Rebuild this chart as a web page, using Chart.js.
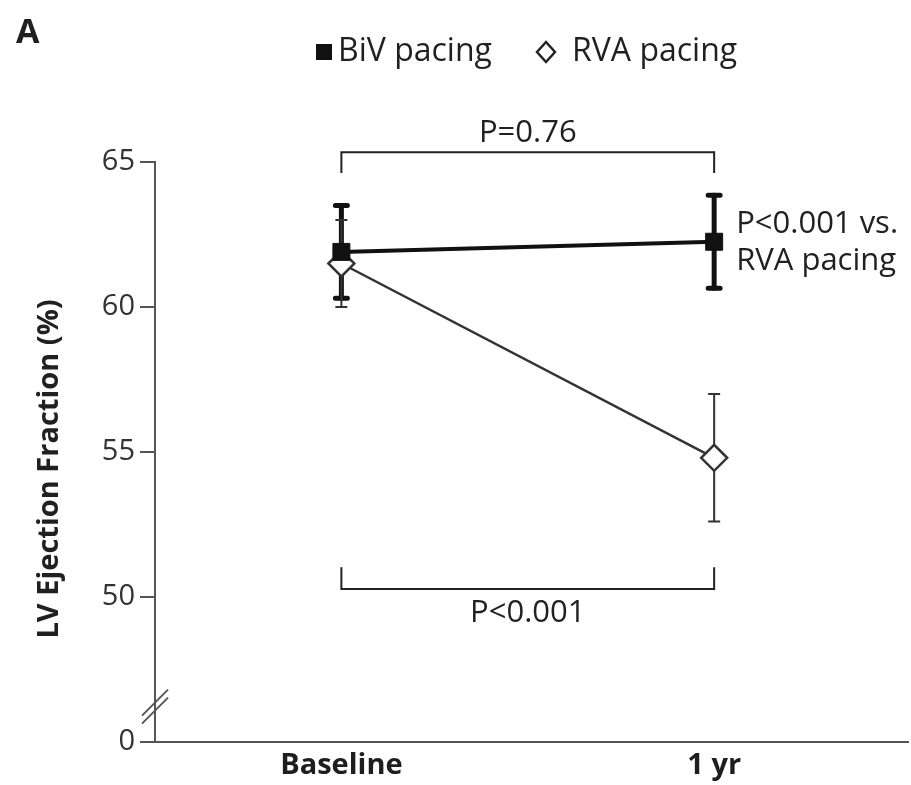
<!DOCTYPE html>
<html><head><meta charset="utf-8">
<script src="https://cdn.jsdelivr.net/npm/chart.js@4.4.1/dist/chart.umd.min.js"></script>
<style>html,body{margin:0;padding:0;background:#fff;overflow:hidden;}#wrap{width:911px;height:785px;}canvas{display:block;}</style>
</head><body><div id="wrap"><canvas id="c" width="911" height="785"></canvas></div>
<script>
// ---- data ----
const categories = ['Baseline', '1 yr'];
const categoryX = [0, 1];
const bivMean = [61.9, 62.25];
const bivErr = [1.6, 1.6];
const rvaMean = [61.5, 54.8];
const rvaErr = [1.5, 2.2];
const yTickValues = [45, 50, 55, 60, 65];
const yTickLabels = ['0', '50', '55', '60', '65'];
const seriesLabels = ['BiV pacing', 'RVA pacing'];
const panelLabel = 'A';
const yTitle = 'LV Ejection Fraction (%)';
const pTop = 'P=0.76';
const pBottom = 'P<0.001';
const pSide = ['P<0.001 vs.', 'RVA pacing'];

// ---- layout / style ----
const FONT = "'Open Sans', 'DejaVu Sans', sans-serif";
const TXT = '#231f20';
const AXIS = '#555';
const place = { topBracket: 65.34, topBracketFoot: 64.62, topText: 65.99,
                botBracket: 50.28, botBracketFoot: 51.03, botText: 49.45,
                sideText: [62.86, 61.58], breakAt: 46.22 };

const annot = {
  id: 'annot',
  beforeDatasetsDraw(chart) {
    const ctx = chart.ctx, xs = chart.scales.x, ys = chart.scales.y;
    const styles = [{w: 5, c: '#111', cap: 6}, {w: 2, c: '#333', cap: 6}];
    chart.data.datasets.forEach((ds, i) => {
      const st = styles[i];
      ds.data.forEach((p, j) => {
        const x = xs.getPixelForValue(p.x);
        const y1 = ys.getPixelForValue(p.y + ds.errors[j]);
        const y2 = ys.getPixelForValue(p.y - ds.errors[j]);
        ctx.save();
        ctx.strokeStyle = st.c; ctx.lineWidth = st.w;
        ctx.lineCap = i === 0 ? 'round' : 'butt';
        ctx.beginPath(); ctx.moveTo(x, y1); ctx.lineTo(x, y2); ctx.stroke();
        ctx.beginPath();
        ctx.moveTo(x - st.cap, y1); ctx.lineTo(x + st.cap, y1);
        ctx.moveTo(x - st.cap, y2); ctx.lineTo(x + st.cap, y2);
        ctx.stroke();
        ctx.restore();
      });
    });
  },
  afterDraw(chart) {
    const ctx = chart.ctx, xs = chart.scales.x, ys = chart.scales.y;
    const x0 = xs.getPixelForValue(categoryX[0]), x1 = xs.getPixelForValue(categoryX[1]);
    ctx.save();
    // brackets
    ctx.strokeStyle = '#222'; ctx.lineWidth = 2;
    let yb = ys.getPixelForValue(place.topBracket), yf = ys.getPixelForValue(place.topBracketFoot);
    ctx.beginPath(); ctx.moveTo(x0, yf); ctx.lineTo(x0, yb); ctx.lineTo(x1, yb); ctx.lineTo(x1, yf); ctx.stroke();
    yb = ys.getPixelForValue(place.botBracket); yf = ys.getPixelForValue(place.botBracketFoot);
    ctx.beginPath(); ctx.moveTo(x0, yf); ctx.lineTo(x0, yb); ctx.lineTo(x1, yb); ctx.lineTo(x1, yf); ctx.stroke();
    // p texts
    ctx.fillStyle = TXT; ctx.font = `31px ${FONT}`;
    ctx.textAlign = 'center'; ctx.textBaseline = 'middle';
    ctx.fillText(pTop, (x0 + x1) / 2, ys.getPixelForValue(place.topText));
    ctx.fillText(pBottom, (x0 + x1) / 2, ys.getPixelForValue(place.botText));
    ctx.textAlign = 'left';
    pSide.forEach((t, i) => ctx.fillText(t, x1 + 22, ys.getPixelForValue(place.sideText[i])));
    // axis break
    const yBr = ys.getPixelForValue(place.breakAt), xa = xs.left;
    ctx.strokeStyle = AXIS; ctx.lineWidth = 2;
    [-4, 4].forEach(o => {
      ctx.beginPath(); ctx.moveTo(xa - 13, yBr + o + 13); ctx.lineTo(xa + 13, yBr + o - 13); ctx.stroke();
    });
    // y title
    ctx.save();
    ctx.translate(50, (ys.top + ys.bottom) / 2 + 17);
    ctx.rotate(-Math.PI / 2);
    ctx.font = `bold 29px ${FONT}`; ctx.textAlign = 'center'; ctx.textBaseline = 'middle';
    ctx.fillText(yTitle, 0, 0);
    ctx.restore();
    // panel label
    ctx.font = `bold 34px ${FONT}`; ctx.textAlign = 'left'; ctx.textBaseline = 'alphabetic';
    ctx.fillText(panelLabel, 16, 43);
    // legend
    ctx.font = `32px ${FONT}`; ctx.textBaseline = 'middle';
    const ly = 52;
    let lx = 316;
    ctx.fillStyle = '#111'; ctx.fillRect(lx, ly - 8, 16, 16);
    ctx.fillStyle = TXT; ctx.fillText(chart.data.datasets[0].label, lx + 22, ly);
    lx = 537;
    ctx.strokeStyle = '#222'; ctx.lineWidth = 2.5;
    ctx.beginPath(); ctx.moveTo(lx + 9, ly - 10); ctx.lineTo(lx + 18, ly); ctx.lineTo(lx + 9, ly + 10); ctx.lineTo(lx, ly); ctx.closePath(); ctx.stroke();
    ctx.fillText(chart.data.datasets[1].label, 572, ly);
    ctx.restore();
  }
};

new Chart(document.getElementById('c'), {
  type: 'line',
  data: { datasets: [
    { label: seriesLabels[0], data: categoryX.map((x, i) => ({x, y: bivMean[i]})), errors: bivErr,
      borderColor: '#111', borderWidth: 4, pointStyle: 'rect', pointRadius: 12,
      pointBackgroundColor: '#111', pointBorderColor: '#111', pointBorderWidth: 1, tension: 0 },
    { label: seriesLabels[1], data: categoryX.map((x, i) => ({x, y: rvaMean[i]})), errors: rvaErr,
      borderColor: '#333', borderWidth: 2.5, pointStyle: 'rectRot', pointRadius: 13,
      pointBackgroundColor: '#fff', pointBorderColor: '#333', pointBorderWidth: 2.5, tension: 0 }
  ]},
  options: {
    responsive: false, animation: false, devicePixelRatio: 1,
    layout: { autoPadding: false, padding: { top: 162, right: 3, left: 0, bottom: 0 } },
    plugins: { legend: { display: false }, tooltip: { enabled: false } },
    scales: {
      x: { type: 'linear', min: -0.5, max: 1.52,
        afterBuildTicks: s => { s.ticks = categoryX.map(v => ({value: v})); },
        ticks: { callback: v => categories[categoryX.indexOf(v)], font: { family: FONT, size: 29, weight: 'bold' },
                 color: '#1e1e1e', padding: 6, autoSkip: false, maxRotation: 0 },
        grid: { display: true, drawOnChartArea: false, drawTicks: false, color: 'rgba(0,0,0,0)' },
        border: { display: true, color: AXIS, width: 2 },
        afterFit: s => { s.height = 43; s.paddingLeft = 0; s.paddingRight = 0; } },
      y: { type: 'linear', min: 45, max: 65,
        afterBuildTicks: s => { s.ticks = yTickValues.map(v => ({value: v})); },
        ticks: { callback: v => yTickLabels[yTickValues.indexOf(v)], font: { family: FONT, size: 29 }, color: '#333', padding: 5 },
        grid: { drawOnChartArea: false, drawTicks: true, tickLength: 15, color: AXIS, lineWidth: 2 },
        border: { display: true, color: AXIS, width: 2 },
        afterFit: s => { s.width = 155; s.paddingTop = 0; s.paddingBottom = 0; } }
    }
  },
  plugins: [annot]
});
</script></body></html>
